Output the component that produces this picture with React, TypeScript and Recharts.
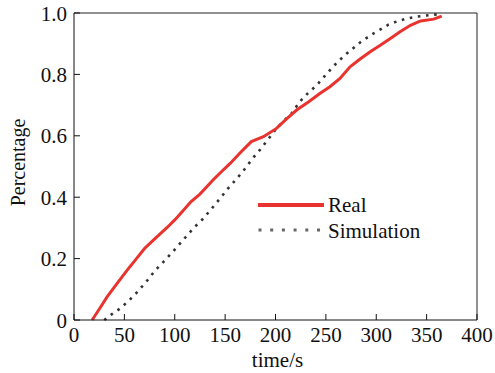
import React from 'react';
import { LineChart, Line, XAxis, YAxis, ReferenceLine } from 'recharts';

const realTime = [18, 25, 33, 43, 53, 62, 70, 78, 86, 93, 100, 108, 116, 125, 138, 146, 155, 165, 176, 188, 201, 211, 221, 233, 244, 254, 264, 274, 284, 294, 304, 314, 324, 334, 344, 357, 365];
const realValue = [0, 0.035, 0.076, 0.12, 0.163, 0.2, 0.233, 0.258, 0.282, 0.303, 0.326, 0.355, 0.385, 0.41, 0.456, 0.482, 0.51, 0.545, 0.581, 0.597, 0.624, 0.655, 0.684, 0.711, 0.738, 0.76, 0.787, 0.825, 0.85, 0.874, 0.895, 0.917, 0.94, 0.96, 0.974, 0.98, 0.99];

const simTime = [30, 38, 46, 55, 64, 73, 81, 89, 98, 106, 114, 120, 126, 137, 145, 153, 162, 170, 177, 185, 193, 201, 208, 216, 224, 232, 241, 249, 257, 264, 271, 278, 284, 291, 297, 305, 312, 321, 330, 340, 350, 361, 365];
const simValue = [0, 0.02, 0.038, 0.065, 0.095, 0.13, 0.163, 0.19, 0.222, 0.252, 0.282, 0.304, 0.322, 0.364, 0.396, 0.429, 0.462, 0.494, 0.525, 0.556, 0.59, 0.624, 0.648, 0.673, 0.711, 0.738, 0.765, 0.795, 0.825, 0.848, 0.869, 0.888, 0.904, 0.92, 0.933, 0.948, 0.962, 0.973, 0.982, 0.988, 0.992, 0.996, 1.0];

const xTicks = [0, 50, 100, 150, 200, 250, 300, 350, 400];
const yTicks = [0, 0.2, 0.4, 0.6, 0.8, 1.0];

const realData = realTime.map((t, i) => ({ t, v: realValue[i] }));
const simData = simTime.map((t, i) => ({ t, v: simValue[i] }));

const FONT = '"Liberation Serif", "Times New Roman", Times, serif';
const RED = '#e8332e';

const LegendBox = () => (
  <svg width={200} height={54} style={{ display: 'block', position: 'absolute', left: 258, top: 193 }}>
    <line x1={0} y1={12} x2={66} y2={12} stroke={RED} strokeWidth={4} />
    <text x={70} y={18.7} style={{ fontFamily: FONT, fontSize: 21 }} fill="#111">Real</text>
    <line x1={0.5} y1={37} x2={66} y2={37} stroke="#666" strokeWidth={3} strokeDasharray="3 8.7" />
    <text x={70} y={44.7} style={{ fontFamily: FONT, fontSize: 21 }} fill="#111">Simulation</text>
  </svg>
);

const YLabel = (props: any) => {
  const vb = props.viewBox || { x: 0, y: 13, width: 74, height: 307 };
  const cx = vb.x + 18;
  const cy = vb.y + vb.height / 2 - 4;
  return (
    <text x={cx} y={cy} transform={`rotate(-90 ${cx} ${cy})`} textAnchor="middle" dominantBaseline="central" style={{ fontFamily: FONT, fontSize: 20 }} fill="#111">
      Percentage
    </text>
  );
};

const XLabel = (props: any) => {
  const vb = props.viewBox || { x: 74, y: 320, width: 403, height: 53 };
  const cx = vb.x + vb.width / 2 + 2;
  const by = vb.y + 47;
  return (
    <text x={cx} y={by} textAnchor="middle" style={{ fontFamily: FONT, fontSize: 21 }} fill="#111">
      time/s
    </text>
  );
};

const XTick = (props: any) => {
  const { x, y, payload } = props;
  return (
    <text x={x} y={y + 15} textAnchor="middle" style={{ fontFamily: FONT, fontSize: 21 }} fill="#111">
      {String(payload.value)}
    </text>
  );
};

const YTick = (props: any) => {
  const { x, y, payload } = props;
  const v = payload.value as number;
  return (
    <text x={x} y={y + 7.5} textAnchor="end" style={{ fontFamily: FONT, fontSize: 21 }} fill="#111">
      {v === 0 ? '0' : v.toFixed(1)}
    </text>
  );
};

export default function App() {
  return (
    <div style={{ position: 'absolute', left: 0, top: 0, width: 495, height: 373, background: '#fff', fontFamily: FONT }}>
      <LineChart width={495} height={373} margin={{ top: 13, right: 18, left: 0, bottom: 0 }}>
        <XAxis
          dataKey="t"
          type="number"
          domain={[0, 400]}
          ticks={xTicks}
          allowDataOverflow
          height={53}
          tickSize={-6}
          tickMargin={13}
          axisLine={{ stroke: '#111', strokeWidth: 1 }}
          tickLine={{ stroke: '#111', strokeWidth: 1 }}
          tick={<XTick />}
          label={<XLabel />}
        />
        <YAxis
          type="number"
          domain={[0, 1]}
          ticks={yTicks}
          width={74}
          tickSize={-6}
          tickMargin={13}
          axisLine={{ stroke: '#111', strokeWidth: 1 }}
          tickLine={{ stroke: '#111', strokeWidth: 1 }}
          tick={<YTick />}
          label={<YLabel />}
        />
        <ReferenceLine y={1} stroke="#222" strokeWidth={1} />
        <ReferenceLine x={400} stroke="#222" strokeWidth={1} />
        <Line
          data={simData}
          dataKey="v"
          name="Simulation"
          type="linear"
          stroke="#333"
          strokeWidth={2.6}
          strokeDasharray="2.6 5.6"
          dot={false}
          activeDot={false}
          isAnimationActive={false}
        />
        <Line
          data={realData}
          dataKey="v"
          name="Real"
          type="linear"
          stroke={RED}
          strokeWidth={3}
          dot={false}
          activeDot={false}
          isAnimationActive={false}
        />
      </LineChart>
      <LegendBox />
    </div>
  );
}
